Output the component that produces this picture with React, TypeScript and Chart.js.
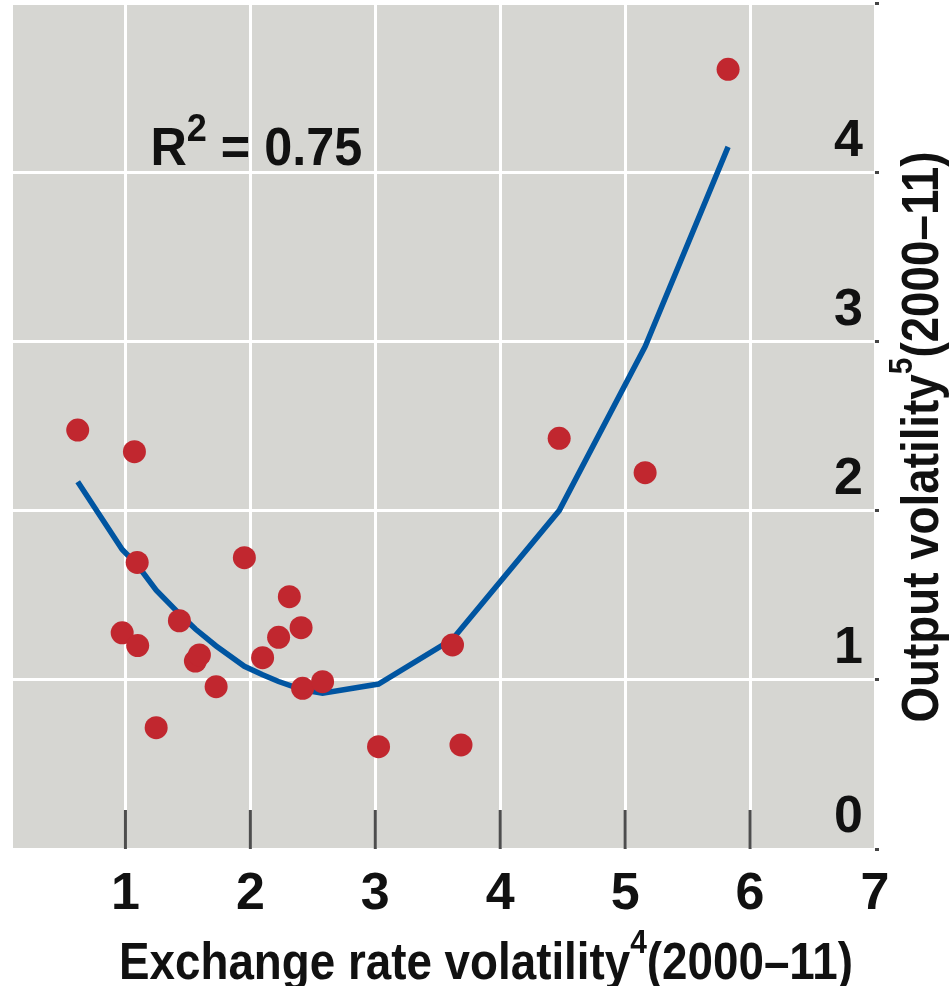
import { useEffect, useRef } from 'react';
import { Chart, registerables } from 'chart.js';

Chart.register(...registerables);

// ---- Data ----
// Exchange rate volatility (x) and output volatility (y) per country
const exchangeVol = [0.618, 1.072, 1.094, 0.974, 1.098, 1.432, 1.56, 1.592, 1.726, 1.246, 1.952, 2.312, 2.406, 2.226, 2.098, 2.418, 2.578, 3.026, 3.618, 3.686, 4.472, 5.16, 5.824];
const outputVol = [2.476, 2.348, 1.694, 1.278, 1.202, 1.349, 1.111, 1.147, 0.959, 0.717, 1.722, 1.491, 1.308, 1.251, 1.131, 0.95, 0.989, 0.605, 1.206, 0.615, 2.427, 2.224, 4.608];
// Fitted curve (at sorted x positions)
const fitX = [0.618, 0.974, 1.094, 1.246, 1.432, 1.56, 1.726, 1.952, 2.098, 2.226, 2.418, 2.578, 3.026, 3.618, 4.472, 5.16, 5.824];
const fitY = [2.17, 1.77, 1.68, 1.53, 1.39, 1.3, 1.2, 1.08, 1.03, 0.99, 0.94, 0.92, 0.975, 1.24, 2.0, 2.97, 4.15];
// Axes
const xRange = [0.1, 7];
const xTickValues = [1, 2, 3, 4, 5, 6, 7];
const yRange = [0, 5];
const yTickLabels = ['0', '1', '2', '3', '4', ''];
const xTitle = ['Exchange rate volatility', '4', '(2000–11)'];
const yTitle = ['Output volatility', '5', '(2000–11)'];
const r2Text = ['R', '2', ' = 0.75'];
const r2Pos = { x: 1.2, y: 4.04 };

// ---- Styles ----
const FONT = '"Liberation Sans", Arial, Helvetica, sans-serif';
const PLOT_BG = '#d6d6d2';
const GRID = '#ffffff';
const DOT = '#c1272f';
const LINE = '#0055a1';
const TEXT = '#111111';
const INNER_TICK = '#4d4d4d';

type Part = { text: string; size: number; rise: number };

function drawParts(ctx: CanvasRenderingContext2D, parts: Part[], align: 'left' | 'center', scaleX: number) {
  ctx.save();
  ctx.textBaseline = 'alphabetic';
  ctx.textAlign = 'left';
  ctx.fillStyle = TEXT;
  let total = 0;
  const widths = parts.map((p) => {
    ctx.font = `bold ${p.size}px ${FONT}`;
    const w = ctx.measureText(p.text).width;
    total += w;
    return w;
  });
  ctx.scale(scaleX, 1);
  let cx = align === 'center' ? -total / 2 : 0;
  parts.forEach((p, i) => {
    ctx.font = `bold ${p.size}px ${FONT}`;
    ctx.fillText(p.text, cx, -p.rise);
    cx += widths[i];
  });
  ctx.restore();
}

const decorPlugin = {
  id: 'decor',
  beforeDraw(chart: any) {
    const { ctx, chartArea: a } = chart;
    ctx.save();
    ctx.fillStyle = PLOT_BG;
    ctx.fillRect(a.left, a.top, a.right - a.left, a.bottom - a.top);
    ctx.restore();
  },
  beforeDatasetsDraw(chart: any) {
    const { ctx, chartArea: a, scales } = chart;
    const xs = scales.x;
    ctx.save();
    ctx.strokeStyle = INNER_TICK;
    ctx.lineWidth = 3;
    xs.ticks.forEach((t: any) => {
      if (t.value >= xs.max) return;
      const px = xs.getPixelForValue(t.value);
      ctx.beginPath();
      ctx.moveTo(px, a.bottom - 39);
      ctx.lineTo(px, a.bottom);
      ctx.stroke();
    });
    ctx.restore();
  },
  afterDraw(chart: any) {
    const { ctx, chartArea: a, scales } = chart;
    // x-axis title
    ctx.save();
    ctx.translate((a.left + a.right) / 2 + 42, a.bottom + 130);
    drawParts(ctx, [
      { text: xTitle[0], size: 52, rise: 0 },
      { text: xTitle[1], size: 34, rise: 26 },
      { text: xTitle[2], size: 52, rise: 0 },
    ], 'center', 0.88);
    ctx.restore();
    // y-axis title (rotated, reading upward)
    ctx.save();
    ctx.translate(a.right + 63, (a.top + a.bottom) / 2 + 11);
    ctx.rotate(-Math.PI / 2);
    drawParts(ctx, [
      { text: yTitle[0], size: 52, rise: 0 },
      { text: yTitle[1], size: 34, rise: 26 },
      { text: yTitle[2], size: 52, rise: 0 },
    ], 'center', 0.88);
    ctx.restore();
    // R^2 annotation
    ctx.save();
    ctx.translate(scales.x.getPixelForValue(r2Pos.x), scales.y.getPixelForValue(r2Pos.y));
    drawParts(ctx, [
      { text: r2Text[0], size: 53, rise: 0 },
      { text: r2Text[1], size: 38, rise: 24 },
      { text: r2Text[2], size: 53, rise: 0 },
    ], 'left', 0.95);
    ctx.restore();
  },
};

export default function App() {
  const ref = useRef<HTMLCanvasElement>(null);
  useEffect(() => {
    if (!ref.current) return;
    const tickFont = { family: FONT, size: 52, weight: 'bold' as const };
    const chart = new Chart(ref.current, {
      type: 'scatter',
      data: {
        datasets: [
          {
            label: 'Countries',
            data: exchangeVol.map((x, i) => ({ x, y: outputVol[i] })),
            backgroundColor: DOT,
            borderWidth: 0,
            pointRadius: 11.5,
            pointHoverRadius: 11.5,
            order: 0,
          },
          {
            label: 'Fit',
            data: fitX.map((x, i) => ({ x, y: fitY[i] })),
            showLine: true,
            borderColor: LINE,
            backgroundColor: LINE,
            borderWidth: 5.5,
            pointRadius: 0,
            pointHoverRadius: 0,
            tension: 0,
            fill: false,
            order: 1,
          } as any,
        ],
      },
      options: {
        animation: false,
        responsive: false,
        events: [],
        layout: { autoPadding: false, padding: { left: 13, top: 3, right: 0, bottom: 0 } },
        plugins: { legend: { display: false }, tooltip: { enabled: false } },
        scales: {
          x: {
            type: 'linear',
            min: xRange[0],
            max: xRange[1],
            afterBuildTicks: (s: any) => {
              s.ticks = xTickValues.map((v) => ({ value: v }));
            },
            afterFit: (s: any) => {
              s.height = 137;
              s.paddingLeft = 0;
              s.paddingRight = 0;
            },
            ticks: { stepSize: 1, padding: 14, font: tickFont, color: TEXT, maxRotation: 0, autoSkip: false },
            grid: { color: GRID, lineWidth: 3, drawTicks: false },
            border: { display: false },
          },
          y: {
            type: 'linear',
            position: 'right',
            min: yRange[0],
            max: yRange[1],
            afterFit: (s: any) => {
              s.width = 74;
              s.paddingTop = 0;
              s.paddingBottom = 0;
            },
            ticks: {
              stepSize: 1,
              mirror: true,
              padding: -12,
              labelOffset: -31,
              font: tickFont,
              color: TEXT,
              autoSkip: false,
              callback: (v: any) => yTickLabels[Math.round(Number(v))] ?? '',
            },
            grid: { color: GRID, lineWidth: 3, drawTicks: true, tickLength: 4, tickColor: '#444444', tickWidth: 3 },
            border: { display: false },
          },
        },
      },
      plugins: [decorPlugin],
    });
    return () => chart.destroy();
  }, []);
  return (
    <div style={{ position: 'absolute', left: 0, top: 0, width: 949, height: 986 }}>
      <canvas ref={ref} width={949} height={986} />
    </div>
  );
}
